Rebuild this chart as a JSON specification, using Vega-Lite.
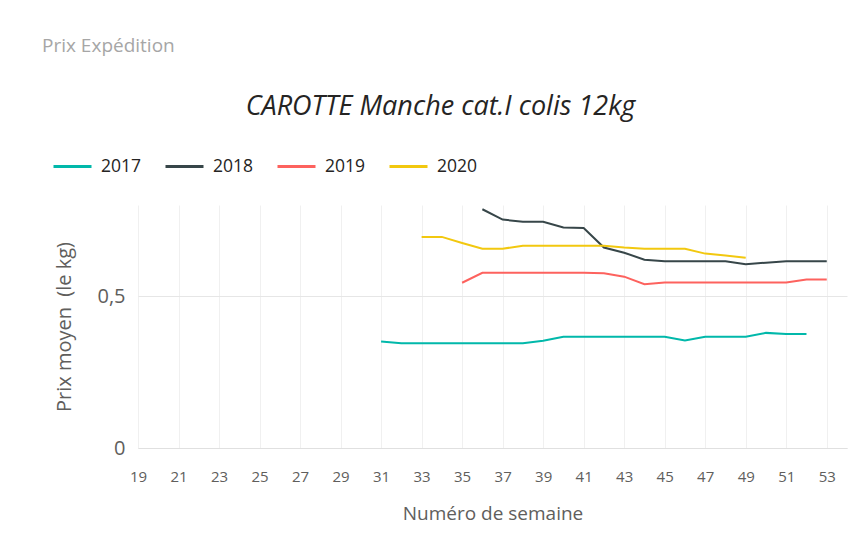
{
  "$schema": "https://vega.github.io/schema/vega-lite/v6.json",
  "background": "white",
  "padding": {"left": 42, "top": 37, "right": 15, "bottom": 15},
  "title": {
    "text": "Prix Expédition",
    "anchor": "start",
    "frame": "bounds",
    "font": "Open Sans",
    "fontSize": 19,
    "fontWeight": "normal",
    "color": "#a6a6a6",
    "offset": 37,
    "dx": -10
  },
  "resolve": {"scale": {"color": "independent"}, "legend": {"color": "independent"}},
  "vconcat": [
    {
      "width": 709,
      "height": 243,
      "title": {
        "text": "CAROTTE Manche cat.I colis 12kg",
        "anchor": "middle",
        "frame": "group",
        "font": "Open Sans",
        "fontSize": 27,
        "fontStyle": "italic",
        "fontWeight": "normal",
        "color": "#252423",
        "offset": 25,
        "dx": -52
      },
      "data": {
        "values": [
          {"semaine": 31, "annee": "2017", "prix": 0.351},
          {"semaine": 32, "annee": "2017", "prix": 0.345},
          {"semaine": 33, "annee": "2017", "prix": 0.345},
          {"semaine": 34, "annee": "2017", "prix": 0.345},
          {"semaine": 35, "annee": "2017", "prix": 0.345},
          {"semaine": 36, "annee": "2017", "prix": 0.345},
          {"semaine": 37, "annee": "2017", "prix": 0.345},
          {"semaine": 38, "annee": "2017", "prix": 0.345},
          {"semaine": 39, "annee": "2017", "prix": 0.353},
          {"semaine": 40, "annee": "2017", "prix": 0.366},
          {"semaine": 41, "annee": "2017", "prix": 0.366},
          {"semaine": 42, "annee": "2017", "prix": 0.366},
          {"semaine": 43, "annee": "2017", "prix": 0.366},
          {"semaine": 44, "annee": "2017", "prix": 0.366},
          {"semaine": 45, "annee": "2017", "prix": 0.366},
          {"semaine": 46, "annee": "2017", "prix": 0.354},
          {"semaine": 47, "annee": "2017", "prix": 0.366},
          {"semaine": 48, "annee": "2017", "prix": 0.366},
          {"semaine": 49, "annee": "2017", "prix": 0.366},
          {"semaine": 50, "annee": "2017", "prix": 0.379},
          {"semaine": 51, "annee": "2017", "prix": 0.375},
          {"semaine": 52, "annee": "2017", "prix": 0.375},
          {"semaine": 36, "annee": "2018", "prix": 0.786},
          {"semaine": 37, "annee": "2018", "prix": 0.752},
          {"semaine": 38, "annee": "2018", "prix": 0.745},
          {"semaine": 39, "annee": "2018", "prix": 0.745},
          {"semaine": 40, "annee": "2018", "prix": 0.726},
          {"semaine": 41, "annee": "2018", "prix": 0.724},
          {"semaine": 42, "annee": "2018", "prix": 0.66},
          {"semaine": 43, "annee": "2018", "prix": 0.643},
          {"semaine": 44, "annee": "2018", "prix": 0.62},
          {"semaine": 45, "annee": "2018", "prix": 0.615},
          {"semaine": 46, "annee": "2018", "prix": 0.615},
          {"semaine": 47, "annee": "2018", "prix": 0.615},
          {"semaine": 48, "annee": "2018", "prix": 0.615},
          {"semaine": 49, "annee": "2018", "prix": 0.605},
          {"semaine": 50, "annee": "2018", "prix": 0.61},
          {"semaine": 51, "annee": "2018", "prix": 0.615},
          {"semaine": 52, "annee": "2018", "prix": 0.615},
          {"semaine": 53, "annee": "2018", "prix": 0.615},
          {"semaine": 35, "annee": "2019", "prix": 0.544},
          {"semaine": 36, "annee": "2019", "prix": 0.577},
          {"semaine": 37, "annee": "2019", "prix": 0.577},
          {"semaine": 38, "annee": "2019", "prix": 0.577},
          {"semaine": 39, "annee": "2019", "prix": 0.577},
          {"semaine": 40, "annee": "2019", "prix": 0.577},
          {"semaine": 41, "annee": "2019", "prix": 0.577},
          {"semaine": 42, "annee": "2019", "prix": 0.575},
          {"semaine": 43, "annee": "2019", "prix": 0.564},
          {"semaine": 44, "annee": "2019", "prix": 0.539},
          {"semaine": 45, "annee": "2019", "prix": 0.545},
          {"semaine": 46, "annee": "2019", "prix": 0.545},
          {"semaine": 47, "annee": "2019", "prix": 0.545},
          {"semaine": 48, "annee": "2019", "prix": 0.545},
          {"semaine": 49, "annee": "2019", "prix": 0.545},
          {"semaine": 50, "annee": "2019", "prix": 0.545},
          {"semaine": 51, "annee": "2019", "prix": 0.545},
          {"semaine": 52, "annee": "2019", "prix": 0.555},
          {"semaine": 53, "annee": "2019", "prix": 0.555},
          {"semaine": 33, "annee": "2020", "prix": 0.695},
          {"semaine": 34, "annee": "2020", "prix": 0.695},
          {"semaine": 35, "annee": "2020", "prix": 0.675},
          {"semaine": 36, "annee": "2020", "prix": 0.656},
          {"semaine": 37, "annee": "2020", "prix": 0.656},
          {"semaine": 38, "annee": "2020", "prix": 0.666},
          {"semaine": 39, "annee": "2020", "prix": 0.666},
          {"semaine": 40, "annee": "2020", "prix": 0.666},
          {"semaine": 41, "annee": "2020", "prix": 0.666},
          {"semaine": 42, "annee": "2020", "prix": 0.666},
          {"semaine": 43, "annee": "2020", "prix": 0.66},
          {"semaine": 44, "annee": "2020", "prix": 0.656},
          {"semaine": 45, "annee": "2020", "prix": 0.656},
          {"semaine": 46, "annee": "2020", "prix": 0.656},
          {"semaine": 47, "annee": "2020", "prix": 0.64},
          {"semaine": 48, "annee": "2020", "prix": 0.634},
          {"semaine": 49, "annee": "2020", "prix": 0.626}
        ]
      },
      "mark": {"type": "line", "strokeWidth": 2},
      "encoding": {
        "x": {
          "field": "semaine",
          "type": "quantitative",
          "scale": {"domain": [19, 54], "nice": false, "zero": false},
          "axis": {
            "title": "Numéro de semaine",
            "values": [19, 21, 23, 25, 27, 29, 31, 33, 35, 37, 39, 41, 43, 45, 47, 49, 51, 53],
            "grid": true,
            "gridColor": "#f0f0f0",
            "gridWidth": 1,
            "ticks": false,
            "labelFlush": false,
            "domainColor": "#e0e0e0",
            "labelFont": "Open Sans",
            "labelFontSize": 15,
            "labelColor": "#605e5c",
            "labelPadding": 21,
            "titleFont": "Open Sans",
            "titleFontSize": 19,
            "titleFontWeight": "normal",
            "titleColor": "#605e5c",
            "titlePadding": 20
          }
        },
        "y": {
          "field": "prix",
          "type": "quantitative",
          "scale": {"domain": [0, 0.8], "nice": false},
          "axis": {
            "title": "Prix moyen\u00a0 (le kg)",
            "values": [0, 0.5],
            "labelExpr": "replace(format(datum.value, '~g'), '.', ',')",
            "grid": true,
            "gridColor": "#e6e6e6",
            "domain": false,
            "ticks": false,
            "labelFont": "Open Sans",
            "labelFontSize": 20,
            "labelColor": "#605e5c",
            "labelPadding": 13,
            "titleFont": "Open Sans",
            "titleFontSize": 20,
            "titleFontWeight": "normal",
            "titleColor": "#605e5c",
            "titlePadding": 22
          }
        },
        "color": {
          "field": "annee",
          "type": "nominal",
          "scale": {"domain": ["2017", "2018", "2019", "2020"], "range": ["#01b8aa", "#374649", "#fd625e", "#f2c80f"]},
          "legend": {
            "title": null,
            "orient": "none",
            "legendX": -86,
            "legendY": -59,
            "direction": "horizontal",
            "symbolType": "stroke",
            "symbolSize": 1444,
            "symbolStrokeWidth": 3,
            "labelFont": "Open Sans",
            "labelFontSize": 17.5,
            "labelColor": "#252423",
            "labelOffset": 8,
            "columnPadding": 17
          }
        }
      }
    }
  ],
  "config": {"view": {"stroke": null}}
}
